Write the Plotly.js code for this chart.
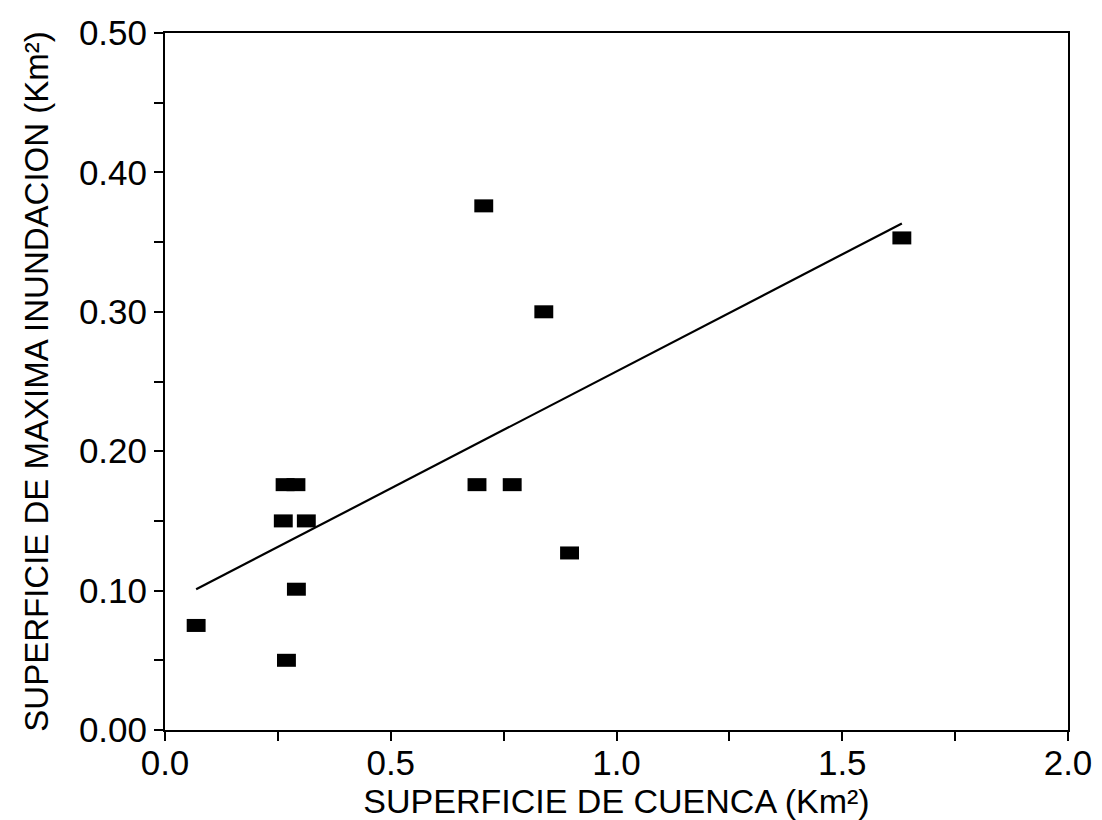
<!DOCTYPE html>
<html>
<head>
<meta charset="utf-8">
<script src="https://cdn.plot.ly/plotly-3.0.1.min.js"></script>
<style>
  html, body { margin: 0; padding: 0; background: #ffffff; }
  #chart { width: 1102px; height: 820px; }
</style>
</head>
<body>
<div id="chart"></div>
<script>
// Basin area (km²) and maximum flooded area (km²) for each basin
const superficieCuenca = [0.069, 0.269, 0.291, 0.262, 0.313, 0.266, 0.290, 0.691, 0.769, 0.706, 0.839, 0.896, 1.632];
const superficieInundacion = [0.075, 0.050, 0.101, 0.150, 0.150, 0.176, 0.176, 0.176, 0.176, 0.376, 0.300, 0.127, 0.353];

const xTickVals = [0.0, 0.5, 1.0, 1.5, 2.0];
const yTickVals = [0.00, 0.10, 0.20, 0.30, 0.40, 0.50];

// Least-squares regression line over the range of the data
function linearFit(xs, ys) {
  const n = xs.length;
  const mx = xs.reduce((a, b) => a + b, 0) / n;
  const my = ys.reduce((a, b) => a + b, 0) / n;
  let sxy = 0, sxx = 0;
  for (let i = 0; i < n; i++) {
    sxy += (xs[i] - mx) * (ys[i] - my);
    sxx += (xs[i] - mx) * (xs[i] - mx);
  }
  const slope = sxy / sxx;
  return { slope: slope, intercept: my - slope * mx };
}
const fit = linearFit(superficieCuenca, superficieInundacion);
const xMin = Math.min(...superficieCuenca);
const xMax = Math.max(...superficieCuenca);
const lineX = [xMin, xMax];
const lineY = lineX.map(x => fit.intercept + fit.slope * x);

const fontFamily = '"Liberation Sans", Arial, Helvetica, sans-serif';

const traces = [
  {
    x: lineX,
    y: lineY,
    mode: 'lines',
    type: 'scatter',
    line: { color: '#000000', width: 2.2 },
    hoverinfo: 'skip',
    showlegend: false
  },
  {
    // small filled rectangles: a short thick horizontal stroke per point
    x: superficieCuenca,
    y: superficieInundacion,
    mode: 'markers',
    type: 'scatter',
    marker: {
      symbol: 'line-ew',
      size: 13.5,
      color: '#000000',
      line: { color: '#000000', width: 13 }
    },
    showlegend: false
  }
];

const axisCommon = {
  showgrid: false,
  zeroline: false,
  showline: true,
  mirror: true,
  linecolor: '#000000',
  linewidth: 2,
  ticks: 'outside',
  ticklen: 9,
  tickwidth: 2,
  tickcolor: '#000000',
  tickfont: { family: fontFamily, size: 35, color: '#000000' }
};

const layout = {
  width: 1102,
  height: 820,
  paper_bgcolor: '#ffffff',
  plot_bgcolor: '#ffffff',
  margin: { l: 165, r: 34, t: 33, b: 90 },
  font: { family: fontFamily, color: '#000000' },
  xaxis: Object.assign({}, axisCommon, {
    range: [0, 2.0],
    tickvals: xTickVals,
    tickformat: '.1f',
    ticklabelstandoff: -8,
    minor: { dtick: 0.25, tick0: 0, ticks: 'outside', ticklen: 9, tickwidth: 2, tickcolor: '#000000' },
    title: {
      text: 'SUPERFICIE DE CUENCA (Km²)',
      font: { family: fontFamily, size: 34, color: '#000000' },
      standoff: 4
    }
  }),
  yaxis: Object.assign({}, axisCommon, {
    range: [0, 0.5],
    tickvals: yTickVals,
    tickformat: '.2f',
    minor: { dtick: 0.05, tick0: 0, ticks: 'outside', ticklen: 9, tickwidth: 2, tickcolor: '#000000' },
    title: {
      text: 'SUPERFICIE DE MAXIMA INUNDACION (Km²)',
      font: { family: fontFamily, size: 33, color: '#000000' },
      standoff: 20
    }
  })
};

Plotly.newPlot('chart', traces, layout, { displayModeBar: false, staticPlot: true });
</script>
</body>
</html>
